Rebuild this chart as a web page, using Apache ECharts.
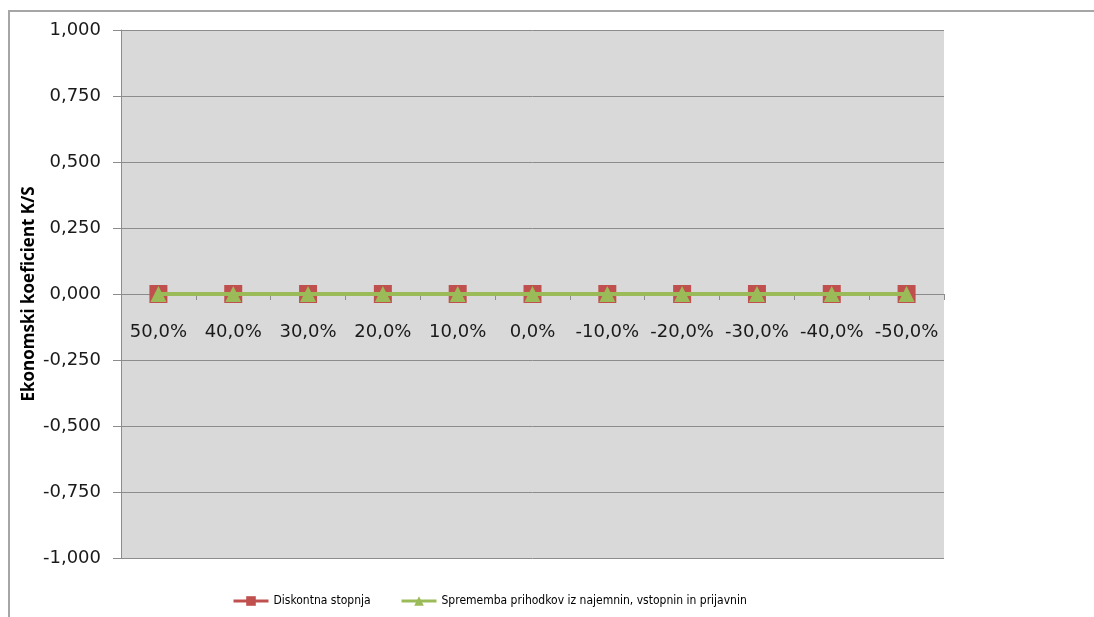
<!DOCTYPE html>
<html>
<head>
<meta charset="utf-8">
<script src="https://cdn.jsdelivr.net/npm/echarts@6/dist/echarts.min.js"></script>
<style>
  html, body { margin: 0; padding: 0; background: #ffffff; }
  #chart { width: 1094px; height: 617px; }
</style>
</head>
<body>
<div id="chart"></div>
<script>
// Sensitivity of the economic coefficient K/S to parameter changes
const categories = ['50,0%', '40,0%', '30,0%', '20,0%', '10,0%', '0,0%', '-10,0%', '-20,0%', '-30,0%', '-40,0%', '-50,0%'];
const diskontnaStopnja = [0, 0, 0, 0, 0, 0, 0, 0, 0, 0, 0];
const spremembaPrihodkov = [0, 0, 0, 0, 0, 0, 0, 0, 0, 0, 0];
const seriesNames = ['Diskontna stopnja', 'Sprememba prihodkov iz najemnin, vstopnin in prijavnin'];
const yAxisName = 'Ekonomski koeficient K/S';

const chart = echarts.init(document.getElementById('chart'), null, { renderer: 'canvas' });

const legendText = {
  fontFamily: "'Liberation Sans Narrow', 'DejaVu Sans Condensed', 'Liberation Sans', sans-serif",
  fontSize: 12,
  color: '#000000'
};

// the category axis sits at value 0, in the middle of the plot
const gridTop = 30, gridBottom = 59, plotHeight = 617 - gridTop - gridBottom;

chart.setOption({
  animation: false,
  backgroundColor: '#ffffff',
  graphic: [{
    type: 'rect',
    shape: { x: 9, y: 11, width: 1100, height: 620 },
    style: { fill: 'none', stroke: '#a6a6a6', lineWidth: 2 },
    z: -1
  }],
  grid: {
    left: 121, right: 150, top: gridTop, bottom: gridBottom,
    show: true, backgroundColor: '#d9d9d9', borderWidth: 0
  },
  legend: [{
    data: [seriesNames[0]],
    left: 227, top: 590,
    itemWidth: 35, itemHeight: 12, itemGap: 0,
    lineStyle: { width: 3 },
    textStyle: legendText
  }, {
    data: [seriesNames[1]],
    left: 395, top: 590,
    itemWidth: 35, itemHeight: 12, itemGap: 0,
    lineStyle: { width: 3 },
    textStyle: legendText
  }],
  xAxis: {
    type: 'category',
    data: categories,
    boundaryGap: true,
    position: 'bottom',
    offset: -plotHeight / 2,
    axisLine: { onZero: false, lineStyle: { color: '#8c8c8c', width: 1 } },
    axisTick: { show: true, length: 6, interval: 0, lineStyle: { color: '#8c8c8c' } },
    axisLabel: {
      interval: 0,
      margin: 29,
      fontFamily: "'DejaVu Sans', sans-serif",
      fontSize: 18,
      color: '#1a1a1a'
    },
    splitLine: { show: false }
  },
  yAxis: {
    type: 'value',
    min: -1, max: 1, interval: 0.25,
    name: yAxisName,
    nameLocation: 'middle',
    nameGap: 83,
    nameMoveOverlap: false,
    nameRotate: 90,
    nameTextStyle: {
      fontFamily: "'Open Sans', sans-serif",
      fontWeight: 'bold',
      fontSize: 17,
      color: '#000000'
    },
    axisLine: { show: true, lineStyle: { color: '#8c8c8c', width: 1 } },
    axisTick: { show: true, length: 8, lineStyle: { color: '#8c8c8c' } },
    axisLabel: {
      margin: 20,
      fontFamily: "'DejaVu Sans', sans-serif",
      fontSize: 18,
      color: '#1a1a1a',
      formatter: v => v.toFixed(3).replace('.', ',')
    },
    splitLine: { show: true, lineStyle: { color: '#8c8c8c', width: 1 } }
  },
  series: [{
    name: seriesNames[0],
    type: 'line',
    data: diskontnaStopnja,
    symbol: 'rect',
    symbolSize: 18,
    itemStyle: { color: '#c0504d' },
    lineStyle: { color: '#c0504d', width: 3 },
    z: 2
  }, {
    name: seriesNames[1],
    type: 'line',
    data: spremembaPrihodkov,
    symbol: 'triangle',
    symbolSize: 16,
    itemStyle: { color: '#9bbb59' },
    lineStyle: { color: '#9bbb59', width: 4 },
    z: 3
  }]
});
</script>
</body>
</html>
